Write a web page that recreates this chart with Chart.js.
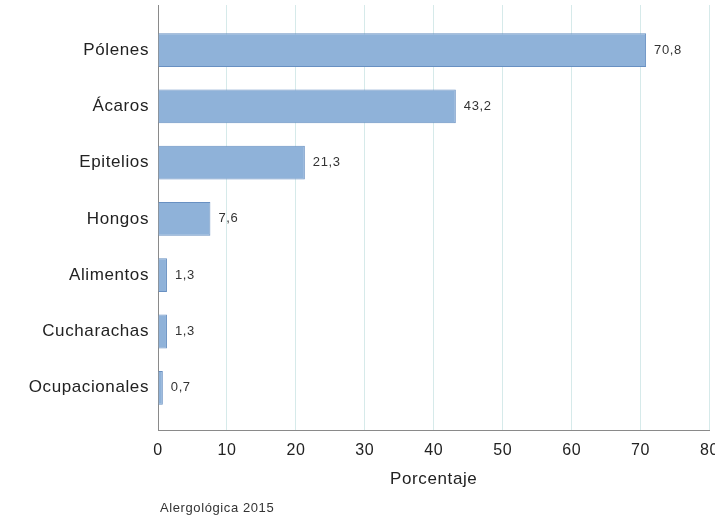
<!DOCTYPE html>
<html lang="es">
<head>
    <meta charset="UTF-8">
    <title>Alergológica 2015</title>
    <script src="https://cdn.jsdelivr.net/npm/chart.js"></script>
    <style>
        html, body { margin: 0; padding: 0; background: #fff; overflow: hidden; }
        #caja { position: relative; width: 730px; height: 520px; }
    </style>
</head>
<body>
    <div id="caja">
        <canvas id="grafico"></canvas>
    </div>

    <script>
        // Datos del gráfico
        const categorias = ['Pólenes', 'Ácaros', 'Epitelios', 'Hongos', 'Alimentos', 'Cucharachas', 'Ocupacionales'];
        const porcentajes = [70.8, 43.2, 21.3, 7.6, 1.3, 1.3, 0.7];
        const ticksX = [0, 10, 20, 30, 40, 50, 60, 70, 80];
        const tituloX = 'Porcentaje';
        const fuente = 'Alergológica 2015';

        const familia = '"Liberation Sans", Arial, sans-serif';

        // El texto del original es algo más ancho: un poco de espaciado entre letras
        const espaciado = {
            id: 'espaciado',
            beforeUpdate(chart) { chart.ctx.letterSpacing = '0.6px'; },
            beforeDraw(chart) { chart.ctx.letterSpacing = '0.6px'; }
        };

        // Etiquetas de valor al final de cada barra
        const etiquetasValor = {
            id: 'etiquetasValor',
            afterDatasetsDraw(chart) {
                const ctx = chart.ctx;
                const meta = chart.getDatasetMeta(0);
                ctx.save();
                ctx.font = '13px ' + familia;
                ctx.fillStyle = '#333';
                ctx.textAlign = 'left';
                ctx.textBaseline = 'middle';
                meta.data.forEach(function(barra, i) {
                    const texto = porcentajes[i].toFixed(1).replace('.', ',');
                    ctx.fillText(texto, barra.x + 8, barra.y);
                });
                ctx.restore();
            }
        };

        // Nota de la fuente debajo del gráfico
        const notaFuente = {
            id: 'notaFuente',
            afterDraw(chart) {
                const ctx = chart.ctx;
                ctx.save();
                ctx.font = '13px ' + familia;
                ctx.fillStyle = '#333';
                ctx.textAlign = 'left';
                ctx.textBaseline = 'middle';
                ctx.fillText(fuente, 160, 508);
                ctx.restore();
            }
        };

        const puntos = porcentajes.map(function(v, i) { return { x: v, y: i }; });

        new Chart(document.getElementById('grafico'), {
            type: 'bar',
            data: {
                datasets: [{
                    data: puntos,
                    backgroundColor: 'rgb(143, 178, 217)',
                    borderColor: 'rgb(104, 144, 194)',
                    borderWidth: 1,
                    barPercentage: 0.6,
                    categoryPercentage: 1
                }]
            },
            options: {
                indexAxis: 'y',
                responsive: true,
                maintainAspectRatio: false,
                animation: false,
                layout: { padding: { top: 5, right: 20, bottom: 21, left: 0 } },
                plugins: {
                    legend: { display: false },
                    tooltip: { enabled: false }
                },
                scales: {
                    x: {
                        type: 'linear',
                        min: 0,
                        max: 80,
                        afterBuildTicks: function(scale) {
                            scale.ticks = ticksX.map(function(v) { return { value: v }; });
                        },
                        afterFit: function(scale) { scale.height = 69; },
                        grid: { color: 'rgb(214, 234, 234)', drawTicks: false },
                        border: { color: '#8a8a8a' },
                        ticks: {
                            color: '#222',
                            padding: 11,
                            font: { family: familia, size: 16 }
                        },
                        title: {
                            display: true,
                            text: tituloX,
                            color: '#222',
                            padding: { top: 7, bottom: 9 },
                            font: { family: familia, size: 17 }
                        }
                    },
                    y: {
                        type: 'linear',
                        reverse: true,
                        offset: false,
                        min: -0.8,
                        max: 6.75,
                        afterBuildTicks: function(scale) {
                            scale.ticks = categorias.map(function(_, i) { return { value: i }; });
                        },
                        afterFit: function(scale) {
                            scale.width = 158;
                            scale.paddingTop = 0;
                            scale.paddingBottom = 0;
                        },
                        grid: { display: false },
                        border: { color: '#8a8a8a' },
                        ticks: {
                            color: '#222',
                            padding: 1,
                            font: { family: familia, size: 17 },
                            callback: function(valor) { return categorias[valor]; }
                        }
                    }
                }
            },
            plugins: [espaciado, etiquetasValor, notaFuente]
        });
    </script>
</body>
</html>
